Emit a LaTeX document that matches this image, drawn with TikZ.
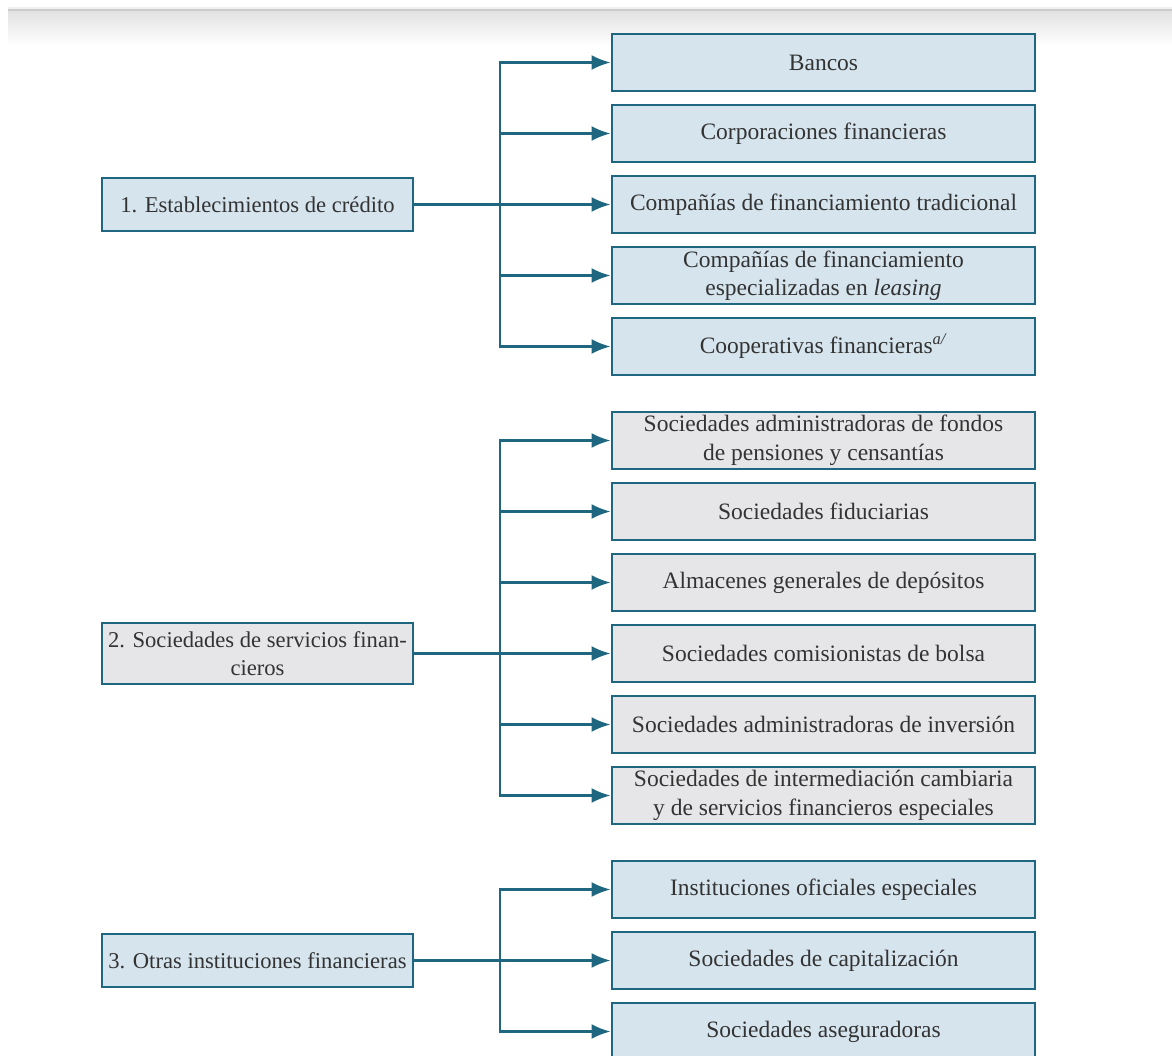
\documentclass[tikz,border=0pt]{standalone}
\usepackage{fontspec}
\setmainfont{Liberation Serif}
\definecolor{framecol}{RGB}{31, 102, 128}
\definecolor{bluefill}{RGB}{214, 228, 238}
\definecolor{grayfill}{RGB}{230, 230, 233}
\definecolor{textcol}{RGB}{51, 51, 51}
\usetikzlibrary{arrows.meta, positioning, calc}
\tikzset{
    rightbox/.style={
        rectangle,
        draw=framecol,
        line width=2.8pt,
        minimum width=423pt,
        minimum height=57pt,
        inner sep=2pt,
        align=center,
        text=textcol,
        font=\rmfamily\fontsize{23.5}{28.5}\selectfont
    },
    leftbox/.style={
        rectangle,
        draw=framecol,
        line width=2.8pt,
        minimum width=311pt,
        minimum height=53pt,
        inner xsep=0pt,
        inner ysep=2pt,
        align=center,
        text=textcol,
        font=\rmfamily\fontsize{22.6}{28.5}\selectfont
    },
    arrowstyle/.style={-{Latex[length=19pt,width=15pt]}, line width=2.5pt, color=framecol, line cap=rect}
}
\begin{document}
\begin{tikzpicture}[x=1pt, y=-1pt]
          \useasboundingbox (0,0) rectangle (1172,1056);
          \clip (0,0) rectangle (1172,1056);
          % page edge shadow
          \fill[gray!12] (8,7) rectangle (1172,9);
          \fill[gray!40] (8,9) rectangle (1172,12);
          \shade[top color=gray!22, bottom color=white] (8,12) rectangle (1172,46);

          % group 1
          \node[rightbox, fill=bluefill] (bancos) at (823.5,62.5) {Bancos};
          \node[rightbox, fill=bluefill] (corp) at (823.5,133.5) {Corporaciones financieras};
          \node[rightbox, fill=bluefill] (trad) at (823.5,204.5) {Compañías de financiamiento tradicional};
          \node[rightbox, fill=bluefill] (leasing) at (823.5,275.5) {Compañías de financiamiento\\especializadas en \textit{leasing}};
          \node[rightbox, fill=bluefill] (coop) at (823.5,346.5) {Cooperativas financieras\textsuperscript{\textit{a/}}};
          \node[leftbox, fill=bluefill] (credito) at (257.5,204.5) {1. Establecimientos de crédito};
          \coordinate (spine1) at (500,204.5);

          % group 2
          \node[rightbox, fill=grayfill] (pensiones) at (823.5,440.5) {Sociedades administradoras de fondos\\de pensiones y censantías};
          \node[rightbox, fill=grayfill] (fiduc) at (823.5,511.5) {Sociedades fiduciarias};
          \node[rightbox, fill=grayfill] (almac) at (823.5,582.5) {Almacenes generales de depósitos};
          \node[rightbox, fill=grayfill] (bolsa) at (823.5,653.5) {Sociedades comisionistas de bolsa};
          \node[rightbox, fill=grayfill] (inversion) at (823.5,724.5) {Sociedades administradoras de inversión};
          \node[rightbox, fill=grayfill] (cambiaria) at (823.5,795.5) {Sociedades de intermediación cambiaria\\y de servicios financieros especiales};
          \node[leftbox, fill=grayfill, minimum height=61pt] (servicios) at (257.5,653.5) {2. Sociedades de servicios finan-\\cieros};
          \coordinate (spine2) at (500,653.5);

          % group 3
          \node[rightbox, fill=bluefill] (oficiales) at (823.5,889.5) {Instituciones oficiales especiales};
          \node[rightbox, fill=bluefill] (capital) at (823.5,960.5) {Sociedades de capitalización};
          \node[rightbox, fill=bluefill] (asegur) at (823.5,1031.5) {Sociedades aseguradoras};
          \node[leftbox, fill=bluefill] (otras) at (257.5,960.5) {3. Otras instituciones financieras};
          \coordinate (spine3) at (500,960.5);

          \draw[arrowstyle] (credito) -- (trad);
          \draw[arrowstyle] (spine1 |- coop.west) |- (bancos.west);
          \draw[arrowstyle] (spine1 |- coop.west) -- (coop.west);
          \draw[arrowstyle] (spine1 |- corp.west) -- (corp.west);
          \draw[arrowstyle] (spine1 |- leasing.west) -- (leasing.west);

          \draw[arrowstyle] (servicios) -- (bolsa);
          \draw[arrowstyle] (spine2 |- cambiaria.west) |- (pensiones.west);
          \draw[arrowstyle] (spine2 |- cambiaria.west) -- (cambiaria.west);
          \draw[arrowstyle] (spine2 |- fiduc.west) -- (fiduc.west);
          \draw[arrowstyle] (spine2 |- almac.west) -- (almac.west);
          \draw[arrowstyle] (spine2 |- inversion.west) -- (inversion.west);

          \draw[arrowstyle] (otras) -- (capital);
          \draw[arrowstyle] (spine3 |- asegur.west) |- (oficiales.west);
          \draw[arrowstyle] (spine3 |- asegur.west) -- (asegur.west);
        \end{tikzpicture}
\end{document}
